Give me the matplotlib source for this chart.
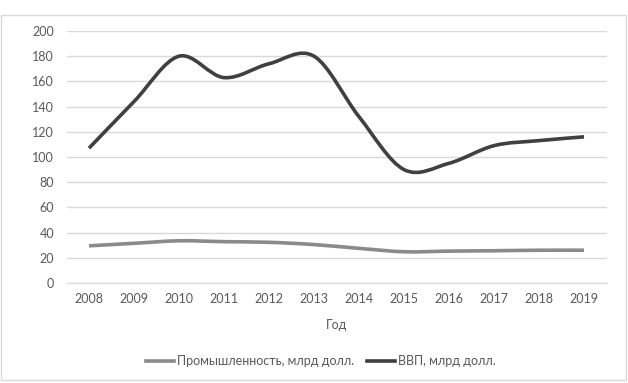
import matplotlib
matplotlib.use("Agg")
import matplotlib.pyplot as plt
import numpy as np
from matplotlib.path import Path
from matplotlib.patches import PathPatch, Rectangle
from matplotlib.lines import Line2D

years = ["2008", "2009", "2010", "2011", "2012", "2013", "2014", "2015", "2016", "2017", "2018", "2019"]
industry = [29.5, 31.5, 33.5, 32.8, 32.3, 30.5, 27.5, 24.8, 25.3, 25.6, 26.0, 26.0]
gdp = [107, 144, 180, 163, 174, 180, 132, 90, 95, 109, 113, 116]
series_names = ["Промышленность, млрд долл.", "ВВП, млрд долл."]
colors = ["#8a8a8a", "#404040"]
xlabel = "Год"
yticks = [0, 20, 40, 60, 80, 100, 120, 140, 160, 180, 200]

plt.rcParams['font.family'] = ['Lato', 'DejaVu Sans']

fig = plt.figure(figsize=(6.28, 3.83), dpi=100)
fig.patches.append(Rectangle((1/628, 3/383), 625/628, 365/383, transform=fig.transFigure,
                             fill=False, edgecolor="#d9d9d9", linewidth=1.0, figure=fig))
ax = fig.add_axes([66.5/628, 1-283/383, 540/628, 252/383])


def smooth_path(xs, ys):
    xs = np.asarray(xs, float); ys = np.asarray(ys, float)
    n = len(xs)
    verts = [(xs[0], ys[0])]
    codes = [Path.MOVETO]
    for i in range(n - 1):
        p0 = np.array([xs[max(i-1, 0)], ys[max(i-1, 0)]])
        p1 = np.array([xs[i], ys[i]])
        p2 = np.array([xs[i+1], ys[i+1]])
        p3 = np.array([xs[min(i+2, n-1)], ys[min(i+2, n-1)]])
        c1 = p1 + (p2 - p0) / 6.0
        c2 = p2 - (p3 - p1) / 6.0
        verts += [tuple(c1), tuple(c2), tuple(p2)]
        codes += [Path.CURVE4] * 3
    return Path(verts, codes)

x = np.arange(len(years))
for vals, col in zip([industry, gdp], colors):
    patch = PathPatch(smooth_path(x, vals), facecolor="none", edgecolor=col,
                      linewidth=2.6, capstyle="butt", joinstyle="round", zorder=3)
    ax.add_patch(patch)

ax.set_xlim(-0.5, len(years) - 0.5)
ax.set_ylim(0, 200)
ax.set_yticks(yticks)
ax.set_xticks(x)
ax.set_xticklabels(years)
ax.grid(axis="y", color="#d9d9d9", linewidth=1.0)
ax.set_axisbelow(True)
for s in ["top", "right", "left"]:
    ax.spines[s].set_visible(False)
ax.spines["bottom"].set_color("#d9d9d9")
ax.tick_params(axis="both", length=0, labelsize=9, colors="#595959", pad=7)
ax.tick_params(axis="y", pad=9)
ax.set_xlabel(xlabel, fontsize=9, color="#595959", labelpad=10)

handles = [Line2D([], [], color=c, linewidth=2.6) for c in colors]
fig.legend(handles, series_names, loc="center", bbox_to_anchor=(321/628, 1-361/383),
           ncol=2, frameon=False, fontsize=9, labelcolor="#595959",
           handlelength=2.2, handletextpad=0.3, columnspacing=1.0)

fig.savefig("out.png", dpi=100)
